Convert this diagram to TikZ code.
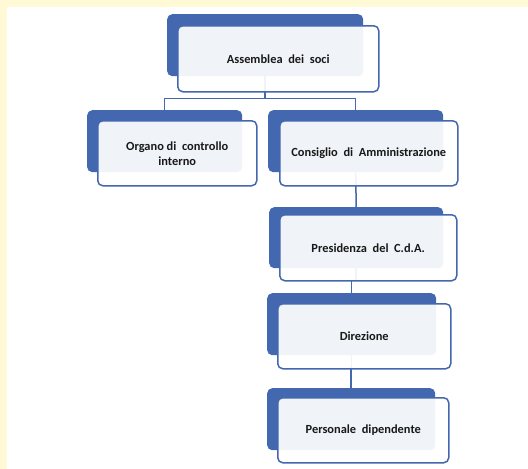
\documentclass[tikz,border=0pt]{standalone}
\usepackage{fontspec}
\setmainfont{Carlito}
\definecolor{boxblue}{RGB}{68,104,176}
\definecolor{paleyellow}{RGB}{255,249,214}
\definecolor{txt}{RGB}{25,25,25}
\begin{document}
\begin{tikzpicture}[x=1pt,y=-1pt,
  back/.style={draw=none,fill=boxblue,rounded corners=5pt,anchor=north west,inner sep=0pt},
  front/.style={draw=boxblue,line width=1.5pt,fill=white,fill opacity=0.92,text opacity=1,
    rounded corners=5pt,anchor=north west,inner sep=0pt,align=center,
    font=\fontsize{12.4}{15}\selectfont\bfseries,text=txt},
  conn/.style={draw=boxblue,line width=1.5pt}]
\useasboundingbox (0,0) rectangle (528,469);
\fill[white] (0,0) rectangle (528,469);
\fill[paleyellow] (0,0) rectangle (528,7);
\fill[paleyellow] (0,0) rectangle (7,469);
% back boxes
\node[back,minimum width=196pt,minimum height=62pt] (ab) at (167,14) {};
\node[back,minimum width=155pt,minimum height=62pt] (ob) at (87,110) {};
\node[back,minimum width=175pt,minimum height=62pt] (cb) at (268,110) {};
\node[back,minimum width=174pt,minimum height=61pt] (pb) at (269,207) {};
\node[back,minimum width=169pt,minimum height=62pt] (db) at (267,293) {};
\node[back,minimum width=168pt,minimum height=62pt] (eb) at (267,388) {};
% connectors
\draw[conn] (ab.south) -- ++(0,22) coordinate (bus);
\draw[conn] (ob.north) |- (bus) -| (cb.north);
\draw[conn] (cb.south) -- (pb.north);
\draw[conn] (pb.south) -- ++(0,12) -| (db.north);
\draw[conn] (db.south) -- ++(0,12) -| (eb.north);
% front boxes
\node[front,minimum width=201pt,minimum height=66pt] (af) at (177,25) {Assemblea\ \ dei\ \ soci};
\node[front,minimum width=159pt,minimum height=65pt] (of) at (97,120) {Organo di\ \ controllo\\interno};
\node[front,minimum width=178pt,minimum height=65pt] (cf) at (279,120) {Consiglio\ \ di\ \ Amministrazione};
\node[front,minimum width=177pt,minimum height=66pt] (pf) at (279,214) {Presidenza\ \ del\ \ C.d.A.};
\node[front,minimum width=173pt,minimum height=65pt] (df) at (277,303) {Direzione};
\node[front,minimum width=171pt,minimum height=65pt] (ef) at (277,397) {Personale\ \ dipendente};
\end{tikzpicture}
\end{document}
